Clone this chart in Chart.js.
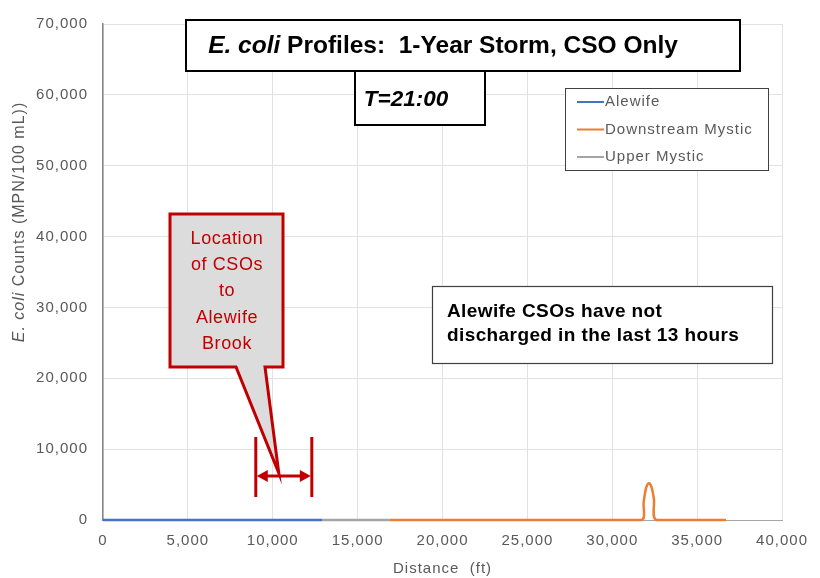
<!DOCTYPE html>
<html>
<head>
<meta charset="utf-8">
<script src="https://cdn.jsdelivr.net/npm/chart.js@4.4.1/dist/chart.umd.min.js"></script>
<style>
  html, body { margin: 0; padding: 0; background: #fff; }
  #wrap { width: 820px; height: 578px; position: relative; }
</style>
</head>
<body>
<div id="wrap"><canvas id="ecoliChart" width="820" height="578"></canvas></div>
<script>
const FONT = "'Liberation Sans', Arial, sans-serif";

// series: distance (ft) and E. coli counts (MPN/100 mL)
const alewifeX = [0, 12900];
const alewifeY = [0, 0];
const downstreamX = [16900, 31700, 31850, 32000, 32150, 32300, 32450, 32600, 36700];
const downstreamY = [0, 0, 2600, 4600, 5200, 4700, 3000, 0, 0];
const upperX = [12900, 16900];
const upperY = [0, 0];

const seriesNames = ['Alewife', 'Downstream Mystic', 'Upper Mystic'];
const seriesColors = ['#4472C4', '#ED7D31', '#A5A5A5'];

const xTicks = [0, 5000, 10000, 15000, 20000, 25000, 30000, 35000, 40000];
const yTicks = [0, 10000, 20000, 30000, 40000, 50000, 60000, 70000];

// CSO reach on Alewife Brook (ft)
const csoReach = [9000, 12300];

const toPts = (xs, ys) => xs.map((x, i) => ({ x, y: ys[i] }));

function boxText(ctx, x, y, w, h, lw) {
  ctx.save();
  ctx.fillStyle = '#fff';
  ctx.fillRect(x, y, w, h);
  ctx.strokeStyle = '#000';
  ctx.lineWidth = lw;
  ctx.strokeRect(x, y, w, h);
  ctx.restore();
}

// Excel-style wide text rendering
const spacing = {
  id: 'spacing',
  beforeDraw(chart) { chart.ctx.letterSpacing = '1px'; },
  beforeLayout(chart) { chart.ctx.letterSpacing = '1px'; }
};

const annotations = {
  id: 'annotations',
  afterDraw(chart) {
    const ctx = chart.ctx;
    const xs = chart.scales.x;

    // y axis title (mixed italic)
    ctx.save();
    ctx.letterSpacing = '1px';
    ctx.translate(20, 222);
    ctx.rotate(-Math.PI / 2);
    ctx.fillStyle = '#595959';
    ctx.textBaseline = 'middle';
    const p1 = 'E. coli ', p2 = 'Counts (MPN/100 mL))';
    ctx.font = 'italic 16px ' + FONT;
    const w1 = ctx.measureText(p1).width;
    ctx.font = '16px ' + FONT;
    const w2 = ctx.measureText(p2).width;
    const sx = -(w1 + w2) / 2;
    ctx.font = 'italic 16px ' + FONT;
    ctx.textAlign = 'left';
    ctx.fillText(p1, sx, 0);
    ctx.font = '16px ' + FONT;
    ctx.fillText(p2, sx + w1, 0);
    ctx.restore();

    // title box
    boxText(ctx, 186, 20, 554, 51, 2);
    ctx.save();
    ctx.letterSpacing = '0px';
    ctx.fillStyle = '#000';
    ctx.textBaseline = 'middle';
    const t1 = 'E. coli', t2 = ' Profiles:  1-Year Storm, CSO Only';
    ctx.font = 'italic bold 24.5px ' + FONT;
    const tw1 = ctx.measureText(t1).width;
    ctx.font = 'bold 24.5px ' + FONT;
    const tx = 443 - (tw1 + ctx.measureText(t2).width) / 2;
    ctx.font = 'italic bold 24.5px ' + FONT;
    ctx.fillText(t1, tx, 46);
    ctx.font = 'bold 24.5px ' + FONT;
    ctx.fillText(t2, tx + tw1, 46);
    ctx.restore();

    // time box
    boxText(ctx, 355, 71, 130, 54, 2);
    ctx.save();
    ctx.letterSpacing = '0px';
    ctx.fillStyle = '#000';
    ctx.font = 'italic bold 22.5px ' + FONT;
    ctx.textAlign = 'center';
    ctx.textBaseline = 'middle';
    ctx.fillText('T=21:00', 406, 100);
    ctx.restore();

    // legend
    ctx.save();
    ctx.fillStyle = '#fff';
    ctx.fillRect(565, 88, 203, 82);
    ctx.strokeStyle = '#404040';
    ctx.lineWidth = 1;
    ctx.strokeRect(565.5, 88.5, 203, 82);
    ctx.font = '15px ' + FONT;
    ctx.letterSpacing = '1px';
    ctx.textBaseline = 'middle';
    chart.data.datasets.forEach((ds, i) => {
      const ly = 102 + i * 27.5;
      ctx.strokeStyle = ds.borderColor;
      ctx.lineWidth = 2;
      ctx.beginPath();
      ctx.moveTo(577, ly);
      ctx.lineTo(604, ly);
      ctx.stroke();
      ctx.fillStyle = '#595959';
      ctx.fillText(ds.label, 605, ly);
    });
    ctx.restore();

    // notice box
    ctx.save();
    ctx.fillStyle = '#fff';
    ctx.fillRect(432, 286, 340, 77);
    ctx.strokeStyle = '#404040';
    ctx.lineWidth = 1.2;
    ctx.strokeRect(432.5, 286.5, 340, 77);
    ctx.fillStyle = '#000';
    ctx.font = 'bold 19px ' + FONT;
    ctx.letterSpacing = '0.4px';
    ctx.textBaseline = 'middle';
    ctx.fillText('Alewife CSOs have not', 447, 312);
    ctx.fillText('discharged in the last 13 hours', 447, 336);
    ctx.restore();

    // CSO reach bracket
    const red = '#C00000';
    const bx1 = xs.getPixelForValue(csoReach[0]);
    const bx2 = xs.getPixelForValue(csoReach[1]);
    const by = 476;
    ctx.save();
    ctx.strokeStyle = red;
    ctx.fillStyle = red;
    ctx.lineWidth = 3;
    ctx.beginPath();
    ctx.moveTo(bx1, 437); ctx.lineTo(bx1, 497);
    ctx.moveTo(bx2, 437); ctx.lineTo(bx2, 497);
    ctx.moveTo(bx1 + 8, by); ctx.lineTo(bx2 - 8, by);
    ctx.stroke();
    ctx.beginPath();
    ctx.moveTo(bx1 + 1, by); ctx.lineTo(bx1 + 12, by - 6); ctx.lineTo(bx1 + 12, by + 6); ctx.closePath();
    ctx.moveTo(bx2 - 1, by); ctx.lineTo(bx2 - 12, by - 6); ctx.lineTo(bx2 - 12, by + 6); ctx.closePath();
    ctx.fill();

    // callout with pointer
    const tipX = bx1 + 23, tipY = by - 3;
    ctx.beginPath();
    ctx.moveTo(170, 214);
    ctx.lineTo(283, 214);
    ctx.lineTo(283, 367);
    ctx.lineTo(265, 367);
    ctx.lineTo(tipX, tipY);
    ctx.lineTo(236, 367);
    ctx.lineTo(170, 367);
    ctx.closePath();
    ctx.fillStyle = '#DCDCDC';
    ctx.fill();
    ctx.lineWidth = 3;
    ctx.lineJoin = 'miter';
    ctx.strokeStyle = red;
    ctx.stroke();
    ctx.fillStyle = red;
    ctx.font = '18px ' + FONT;
    ctx.letterSpacing = '0.6px';
    ctx.textAlign = 'center';
    ctx.textBaseline = 'middle';
    ['Location', 'of CSOs', 'to', 'Alewife', 'Brook'].forEach((s, i) => {
      ctx.fillText(s, 227, 239 + i * 26.2);
    });
    ctx.restore();
  }
};

new Chart(document.getElementById('ecoliChart'), {
  type: 'scatter',
  data: {
    datasets: [
      { label: seriesNames[0], data: toPts(alewifeX, alewifeY), borderColor: seriesColors[0] },
      { label: seriesNames[1], data: toPts(downstreamX, downstreamY), borderColor: seriesColors[1] },
      { label: seriesNames[2], data: toPts(upperX, upperY), borderColor: seriesColors[2] }
    ].map(d => Object.assign(d, { showLine: true, pointRadius: 0, borderWidth: 2.5, tension: 0.3, clip: false, backgroundColor: d.borderColor }))
  },
  options: {
    responsive: false,
    animation: false,
    layout: { padding: { top: 17, right: 37, left: 0, bottom: 0 } },
    plugins: { legend: { display: false }, tooltip: { enabled: false } },
    scales: {
      x: {
        type: 'linear', min: 0, max: 40000,
        afterBuildTicks: s => { s.ticks = xTicks.map(v => ({ value: v })); },
        afterFit: s => { s.height = 58; },
        grid: { color: '#E2E2E2', drawTicks: false },
        border: { color: '#A6A6A6', width: 1 },
        ticks: { color: '#595959', font: { family: FONT, size: 15 }, padding: 12, maxRotation: 0,
          callback: v => v.toLocaleString('en-US') },
        title: { display: true, text: 'Distance  (ft)', color: '#595959', font: { family: FONT, size: 15 }, padding: { top: 1, bottom: 0 } }
      },
      y: {
        type: 'linear', min: 0, max: 70000,
        afterBuildTicks: s => { s.ticks = yTicks.map(v => ({ value: v })); },
        afterFit: s => { s.width = 103; },
        grid: { color: '#E2E2E2', drawTicks: false },
        border: { color: '#868686', width: 1.5 },
        ticks: { color: '#595959', font: { family: FONT, size: 15 }, padding: 15,
          callback: v => v.toLocaleString('en-US') }
      }
    }
  },
  plugins: [spacing, annotations]
});
</script>
</body>
</html>
